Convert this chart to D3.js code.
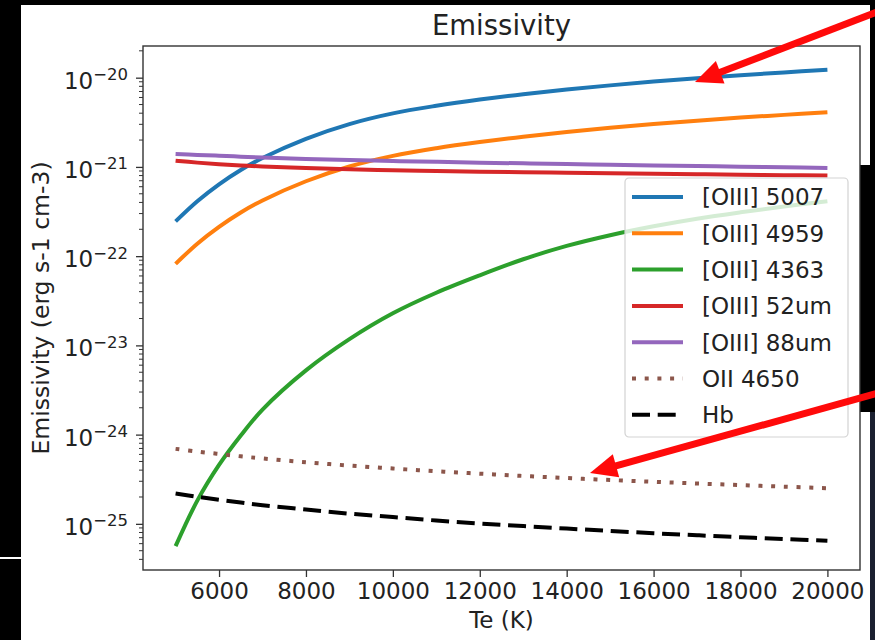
<!DOCTYPE html>
<html>
<head>
<meta charset="utf-8">
<script src="https://cdn.jsdelivr.net/npm/d3@7"></script>
<style>
  html, body { margin: 0; padding: 0; background: #000; }
  svg { display: block; }
  text { font-family: "DejaVu Sans", sans-serif; fill: #222; }
  .tick text { font-size: 23px; }
</style>
</head>
<body>
<div id="chart"></div>
<script>
// electron temperature grid (K)
const temps = [5000, 5500, 6000, 6500, 7000, 8000, 9000, 10000, 11000, 12000, 13000, 14000, 15000, 16000, 17000, 18000, 19000, 20000];

// emissivities (erg s-1 cm-3)
const oiii5007 = [2.45e-22, 4.12e-22, 6.38e-22, 9.23e-22, 1.259e-21, 2.065e-21, 3.02e-21, 3.98e-21, 4.84e-21, 5.69e-21, 6.53e-21, 7.36e-21, 8.20e-21, 9.04e-21, 9.86e-21, 1.066e-20, 1.146e-20, 1.225e-20];
const oiii4959 = [8.2e-23, 1.38e-22, 2.13e-22, 3.09e-22, 4.21e-22, 6.91e-22, 1.01e-21, 1.33e-21, 1.62e-21, 1.90e-21, 2.18e-21, 2.46e-21, 2.74e-21, 3.02e-21, 3.30e-21, 3.57e-21, 3.83e-21, 4.10e-21];
const oiii4363 = [5.62e-26, 1.82e-25, 4.57e-25, 9.77e-25, 1.91e-24, 5.25e-24, 1.175e-23, 2.29e-23, 3.89e-23, 6.10e-23, 9.23e-23, 1.303e-22, 1.718e-22, 2.163e-22, 2.63e-22, 3.10e-22, 3.60e-22, 4.12e-22];
const oiii52um = [1.175e-21, 1.117e-21, 1.072e-21, 1.038e-21, 1.012e-21, 9.70e-22, 9.40e-22, 9.16e-22, 8.99e-22, 8.85e-22, 8.73e-22, 8.61e-22, 8.49e-22, 8.38e-22, 8.28e-22, 8.18e-22, 8.09e-22, 8.00e-22];
const oiii88um = [1.396e-21, 1.36e-21, 1.334e-21, 1.303e-21, 1.274e-21, 1.23e-21, 1.194e-21, 1.164e-21, 1.14e-21, 1.117e-21, 1.096e-21, 1.076e-21, 1.057e-21, 1.04e-21, 1.023e-21, 1.005e-21, 9.89e-22, 9.73e-22];
const oii4650 = [6.92e-25, 6.46e-25, 6.07e-25, 5.71e-25, 5.41e-25, 4.90e-25, 4.50e-25, 4.17e-25, 3.89e-25, 3.65e-25, 3.44e-25, 3.26e-25, 3.10e-25, 2.96e-25, 2.83e-25, 2.72e-25, 2.61e-25, 2.51e-25];
const hbeta = [2.19e-25, 2.01e-25, 1.86e-25, 1.73e-25, 1.62e-25, 1.445e-25, 1.30e-25, 1.19e-25, 1.09e-25, 1.01e-25, 9.44e-26, 8.85e-26, 8.32e-26, 7.85e-26, 7.45e-26, 7.08e-26, 6.76e-26, 6.46e-26];

const labels = ['[OIII] 5007', '[OIII] 4959', '[OIII] 4363', '[OIII] 52um', '[OIII] 88um', 'OII 4650', 'Hb'];
const xTicks = [6000, 8000, 10000, 12000, 14000, 16000, 18000, 20000];
const yTicks = [1e-20, 1e-21, 1e-22, 1e-23, 1e-24, 1e-25];

const series = [
  {name: labels[0], values: oiii5007, color: '#1f77b4', dash: null},
  {name: labels[1], values: oiii4959, color: '#ff7f0e', dash: null},
  {name: labels[2], values: oiii4363, color: '#2ca02c', dash: null},
  {name: labels[3], values: oiii52um, color: '#d62728', dash: null},
  {name: labels[4], values: oiii88um, color: '#9467bd', dash: null},
  {name: labels[5], values: oii4650, color: '#8c564b', dash: '4,8.7'},
  {name: labels[6], values: hbeta, color: '#000000', dash: '18,7.7'}
];

const W = 875, H = 640;
const plotL = 143, plotR = 860, plotT = 46, plotB = 570;

const svg = d3.select('#chart').append('svg')
    .attr('width', W)
    .attr('height', H);

// screenshot surroundings
svg.append('rect').attr('x', 0).attr('y', 0).attr('width', W).attr('height', H).attr('fill', '#000');
svg.append('rect').attr('x', 21).attr('y', 5).attr('width', 849).attr('height', H - 5).attr('fill', '#fff');
svg.append('rect').attr('x', 870).attr('y', 355).attr('width', 5).attr('height', H - 355).attr('fill', '#1b2030');
svg.append('rect').attr('x', 860).attr('y', 165).attr('width', 15).attr('height', 247).attr('fill', '#000');
svg.append('rect').attr('x', 0).attr('y', 557).attr('width', 21).attr('height', 2).attr('fill', '#fff');

// matplotlib-like autoscale: 5% margins (log margins on y)
const tExt = d3.extent(temps);
const tPad = (tExt[1] - tExt[0]) * 0.05;
const x = d3.scaleLinear()
    .domain([tExt[0] - tPad, tExt[1] + tPad])
    .range([plotL, plotR]);

const allVals = series.flatMap(s => s.values);
const lo = Math.log10(d3.min(allVals)), hi = Math.log10(d3.max(allVals));
const lPad = (hi - lo) * 0.05;
const y = d3.scaleLog()
    .domain([Math.pow(10, lo - lPad), Math.pow(10, hi + lPad)])
    .range([plotB, plotT]);

// curves
const line = d3.line()
    .x((d, i) => x(temps[i]))
    .y(d => y(d))
    .curve(d3.curveCatmullRom.alpha(0.5));

svg.append('g')
  .selectAll('path')
  .data(series)
  .enter()
  .append('path')
    .attr('d', d => line(d.values))
    .attr('fill', 'none')
    .attr('stroke', d => d.color)
    .attr('stroke-width', 4)
    .attr('stroke-dasharray', d => d.dash);

// axes
const xAxis = svg.append('g')
    .attr('transform', `translate(0,${plotB})`)
    .call(d3.axisBottom(x).tickValues(xTicks).tickSize(7).tickPadding(6).tickSizeOuter(0).tickFormat(d3.format('d')));
xAxis.select('.domain').remove();
xAxis.selectAll('.tick line').attr('stroke', '#333').attr('stroke-width', 1.3);
xAxis.selectAll('.tick text').attr('dy', null).attr('y', 29);

const minor = y.ticks(10).filter(v => !yTicks.some(t => Math.abs(v / t - 1) < 1e-6));
svg.append('g')
    .attr('transform', `translate(${plotL},0)`)
  .selectAll('line')
  .data(minor)
  .enter()
  .append('line')
    .attr('x1', -4)
    .attr('x2', 0)
    .attr('y1', d => y(d))
    .attr('y2', d => y(d))
    .attr('stroke', '#333')
    .attr('stroke-width', 1);

const yAxis = svg.append('g')
    .attr('transform', `translate(${plotL},0)`)
    .call(d3.axisLeft(y).tickValues(yTicks).tickSize(7).tickPadding(8).tickSizeOuter(0).tickFormat(() => ''));
yAxis.select('.domain').remove();
yAxis.selectAll('.tick line').attr('stroke', '#333').attr('stroke-width', 1.3);
yAxis.selectAll('.tick text').each(function(d) {
  const t = d3.select(this).attr('dy', null).attr('y', 10.5).attr('x', -15);
  t.text(null);
  t.append('tspan').text('10');
  t.append('tspan')
      .attr('dy', -8.5)
      .style('font-size', '16.5px')
      .text('\u2212' + Math.abs(Math.round(Math.log10(d))));
});

// spines
svg.append('rect')
    .attr('x', plotL).attr('y', plotT)
    .attr('width', plotR - plotL).attr('height', plotB - plotT)
    .attr('fill', 'none')
    .attr('stroke', '#333')
    .attr('stroke-width', 1.4);

// titles
svg.append('text')
    .attr('x', (plotL + plotR) / 2)
    .attr('y', 35)
    .attr('text-anchor', 'middle')
    .style('font-size', '27.5px')
    .text('Emissivity');

svg.append('text')
    .attr('x', (plotL + plotR) / 2)
    .attr('y', 628)
    .attr('text-anchor', 'middle')
    .style('font-size', '23px')
    .text('Te (K)');

svg.append('text')
    .attr('transform', `translate(49,${(plotT + plotB) / 2}) rotate(-90)`)
    .attr('text-anchor', 'middle')
    .style('font-size', '23.5px')
    .text('Emissivity (erg s-1 cm-3)');

// legend
const lg = svg.append('g').attr('transform', 'translate(625,178)');
lg.append('rect')
    .attr('width', 223).attr('height', 259)
    .attr('rx', 4)
    .attr('fill', '#fff').attr('fill-opacity', 0.8)
    .attr('stroke', '#d3d3d3').attr('stroke-width', 1.2);

const item = lg.selectAll('.item')
  .data(series)
  .enter()
  .append('g')
    .attr('class', 'item')
    .attr('transform', (d, i) => `translate(0,${19 + i * 36.3})`);

item.append('line')
    .attr('x1', 7).attr('x2', 58)
    .attr('stroke', d => d.color)
    .attr('stroke-width', 4)
    .attr('stroke-dasharray', d => d.dash);

item.append('text')
    .attr('x', 77)
    .attr('y', 8.3)
    .style('font-size', '23px')
    .text(d => d.name);

// red annotation arrows on top of the screenshot
function arrow(x0, y0, x1, y1) {
  const dx = x1 - x0, dy = y1 - y0, len = Math.hypot(dx, dy);
  const ux = dx / len, uy = dy / len;
  const hl = 27, hw = 12;
  const bx = x1 - ux * hl, by = y1 - uy * hl;
  svg.append('line')
      .attr('x1', x0).attr('y1', y0)
      .attr('x2', bx + ux * 2).attr('y2', by + uy * 2)
      .attr('stroke', '#ff0a0a').attr('stroke-width', 7);
  svg.append('path')
      .attr('d', `M${x1},${y1}L${bx - uy * hw},${by + ux * hw}L${bx + uy * hw},${by - ux * hw}Z`)
      .attr('fill', '#ff0a0a');
}
arrow(882, 10, 695, 82);
arrow(882, 392, 590, 473);
</script>
</body>
</html>
